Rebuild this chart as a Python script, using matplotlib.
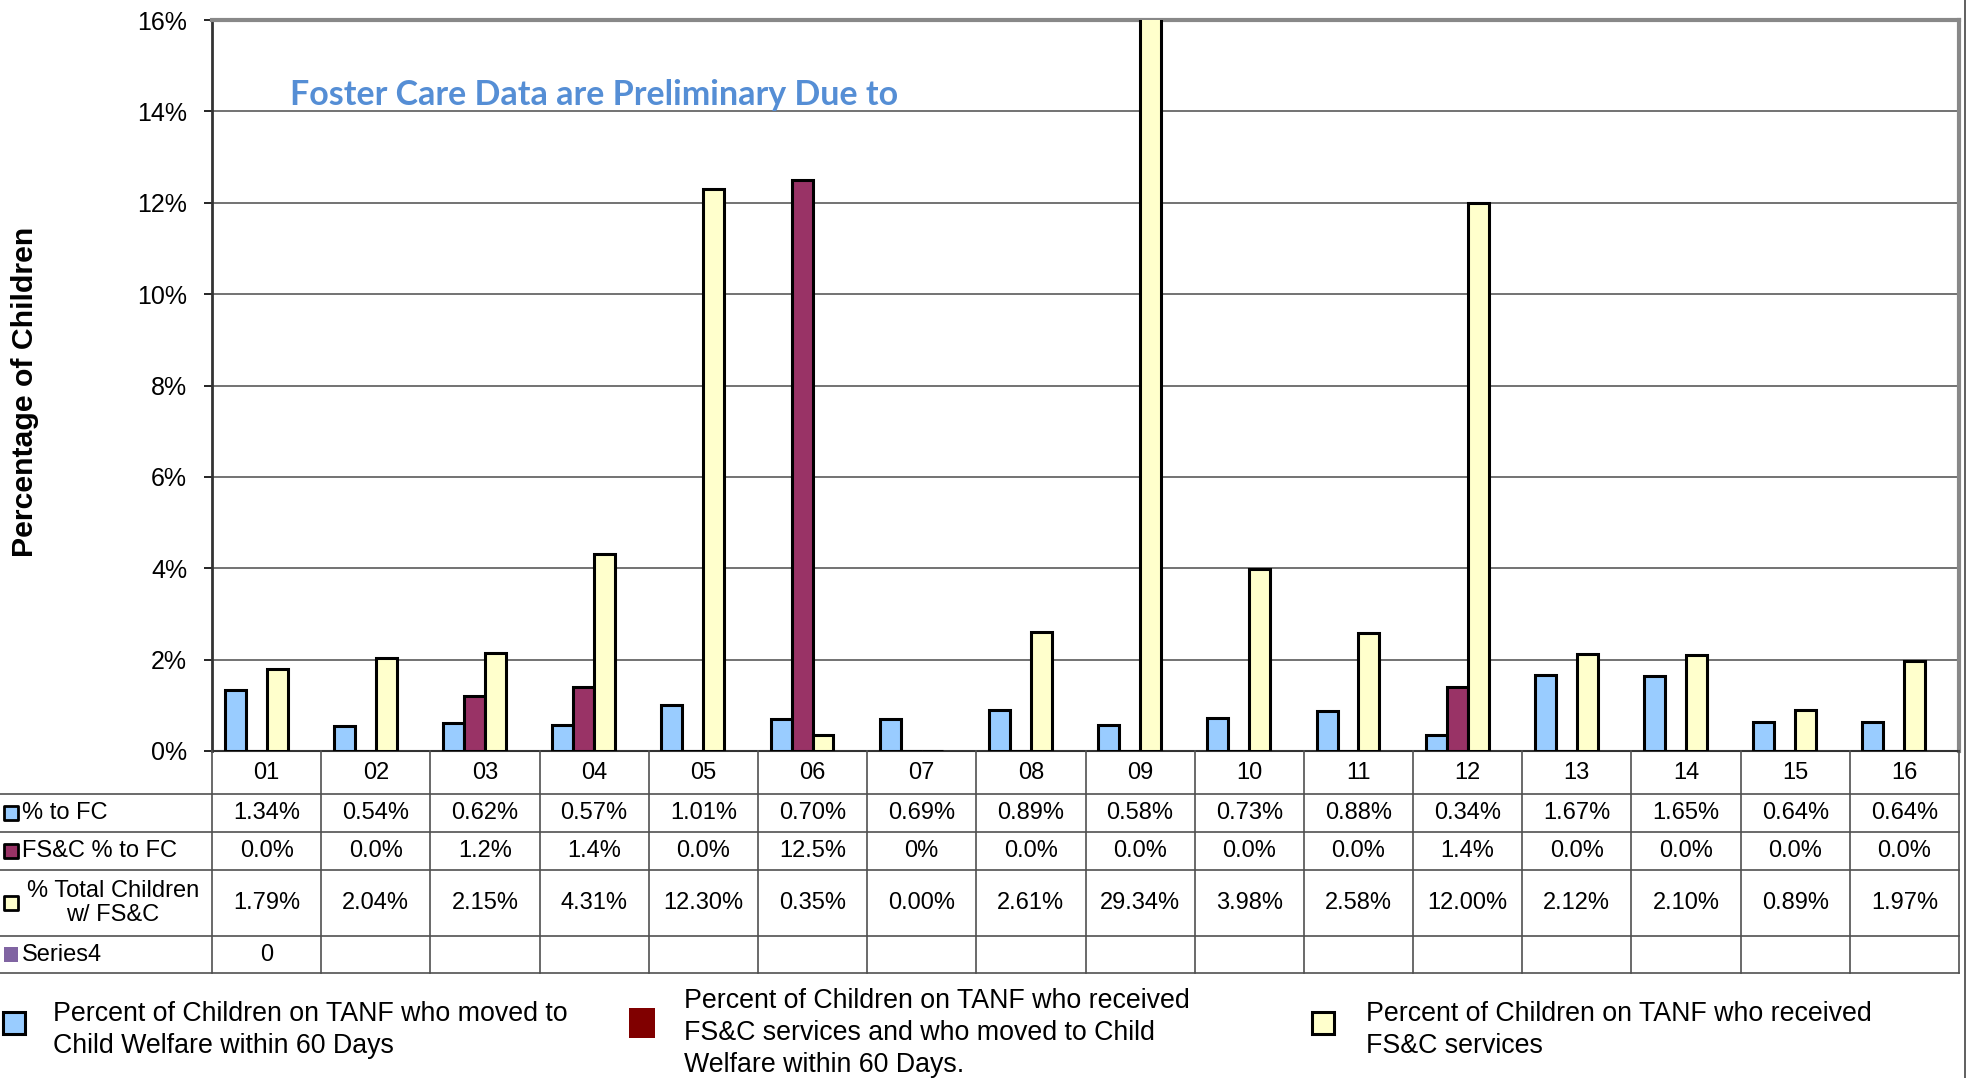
import numpy as np
import matplotlib
matplotlib.use('Agg')
import matplotlib.pyplot as plt
from matplotlib.lines import Line2D
from matplotlib.patches import Rectangle

plt.rcParams['font.family'] = ['Liberation Sans', 'DejaVu Sans']

# data
categories = ['01', '02', '03', '04', '05', '06', '07', '08',
              '09', '10', '11', '12', '13', '14', '15', '16']
pct_to_fc = [1.34, 0.54, 0.62, 0.57, 1.01, 0.70, 0.69, 0.89,
             0.58, 0.73, 0.88, 0.34, 1.67, 1.65, 0.64, 0.64]
fsc_to_fc = [0.0, 0.0, 1.2, 1.4, 0.0, 12.5, 0.0, 0.0,
             0.0, 0.0, 0.0, 1.4, 0.0, 0.0, 0.0, 0.0]
fsc_to_fc_text = ['0.0%', '0.0%', '1.2%', '1.4%', '0.0%', '12.5%', '0%', '0.0%',
                  '0.0%', '0.0%', '0.0%', '1.4%', '0.0%', '0.0%', '0.0%', '0.0%']
total_fsc = [1.79, 2.04, 2.15, 4.31, 12.30, 0.35, 0.00, 2.61,
             29.34, 3.98, 2.58, 12.00, 2.12, 2.10, 0.89, 1.97]
series4 = [0] + [np.nan] * 15
series4_text = ['0'] + [''] * 15

row_labels = ['% to FC', 'FS&C % to FC', '% Total Children\nw/ FS&C', 'Series4']
legend_labels = ['Percent of Children on TANF who moved to\nChild Welfare within 60 Days',
                 'Percent of Children on TANF who received\nFS&C services and who moved to Child\nWelfare within 60 Days.',
                 'Percent of Children on TANF who received\nFS&C services']

c_blue = '#99CCFF'
c_maroon = '#993366'
c_yellow = '#FFFFCC'
c_purple = '#8064A2'

W, H = 1969, 1078
fig = plt.figure(figsize=(W / 100, H / 100), dpi=100)

def fx(px):
    return px / W

def fy(py):
    return 1 - py / H

# plot area
x0, x1, y_top, y_bot = 212, 1959, 20, 751
ax = fig.add_axes([fx(x0), fy(y_bot), fx(x1) - fx(x0), fy(y_top) - fy(y_bot)])

n = len(categories)
x = np.arange(n)
w = 0.192
series = [(pct_to_fc, c_blue), (fsc_to_fc, c_maroon), (total_fsc, c_yellow)]
for k, (vals, col) in enumerate(series):
    ax.bar(x + (k - 1.5) * w, vals, w, color=col, edgecolor='black', linewidth=2.2, zorder=3)
ax.bar(x + 1.5 * w, series4, w, color=c_purple, linewidth=0, zorder=3)

ax.set_xlim(-0.5, n - 0.5)
ax.set_ylim(0, 16)
ax.set_yticks(np.arange(0, 17, 2))
ax.set_yticklabels([f'{v}%' for v in range(0, 17, 2)], fontsize=18)
ax.set_xticks([])
ax.tick_params(axis='y', length=6, width=1.2, pad=12, direction='out')
ax.yaxis.grid(True, color='#5a5a5a', linewidth=1.2, zorder=0)
ax.set_axisbelow(True)
for s in ['top', 'right']:
    ax.spines[s].set_color('#888888')
    ax.spines[s].set_linewidth(3)
ax.spines['left'].set_color('#333333')
ax.spines['left'].set_linewidth(2)
ax.spines['bottom'].set_color('#333333')
ax.spines['bottom'].set_linewidth(1.5)

cat_px = (x1 - x0) / n
ax.text((290 - x0) / cat_px - 0.5, 14.35, 'Foster Care Data are Preliminary Due to', color='#558ED5',
        fontsize=24.5, fontweight='bold', family=['Lato', 'DejaVu Sans'],
        ha='left', va='center', zorder=5)

fig.text(fx(25), fy(392), 'Percentage of Children', rotation=90, fontsize=21.8,
         fontweight='bold', ha='center', va='center')

# data table under the plot
t_bot = 973
tax = fig.add_axes([0, fy(t_bot), fx(x1), fy(y_bot) - fy(t_bot)])
tx_left = -0.5 - x0 / cat_px
tax.set_xlim(tx_left, n - 0.5)
tax.set_ylim(t_bot, y_bot)
tax.axis('off')

rows = [751, 794, 832, 870, 936, 973]
for r in rows[1:]:
    tax.plot([tx_left, n - 0.5], [r, r], color='#505050', lw=1.2, clip_on=False)
for b in np.arange(-0.5, n, 1.0):
    tax.plot([b, b], [rows[0], rows[-1]], color='#505050', lw=1.2, clip_on=False)

def mid(i):
    return (rows[i] + rows[i + 1]) / 2

for i, c in enumerate(categories):
    tax.text(i, mid(0), c, ha='center', va='center', fontsize=17)
    tax.text(i, mid(1), f'{pct_to_fc[i]:.2f}%', ha='center', va='center', fontsize=17)
    tax.text(i, mid(2), fsc_to_fc_text[i], ha='center', va='center', fontsize=17)
    tax.text(i, mid(3), f'{total_fsc[i]:.2f}%', ha='center', va='center', fontsize=17)
    tax.text(i, mid(4), series4_text[i], ha='center', va='center', fontsize=17)

key_cols = [(c_blue, 'black'), (c_maroon, 'black'), (c_yellow, 'black'), (c_purple, 'none')]
key_x = tx_left + 11 / cat_px
for j, lab in enumerate(row_labels):
    fc, ec = key_cols[j]
    tax.scatter([key_x], [mid(j + 1)], marker='s', s=115, c=fc, edgecolors=ec,
                linewidths=2.0, clip_on=False, zorder=4)
    if '\n' in lab:
        tax.text(tx_left + 113 / cat_px, mid(j + 1), lab, ha='center', va='center',
                 fontsize=17, linespacing=1.1)
    else:
        tax.text(tx_left + 22 / cat_px, mid(j + 1), lab, ha='left', va='center', fontsize=17)

# legend along the bottom
leg_items = [
    (3, 1012, 22, 22, c_blue, 'black', 53, 1030),
    (629, 1008, 26, 30, '#800000', 'none', 684, 1033),
    (1312, 1012, 22, 22, c_yellow, 'black', 1366, 1030),
]
for (px, py, pw, ph, fc, ec, txp, typ), lab in zip(leg_items, legend_labels):
    fig.patches.append(Rectangle((fx(px), fy(py + ph)), pw / W, ph / H, facecolor=fc,
                                 edgecolor=ec, linewidth=2.2, transform=fig.transFigure))
    fig.text(fx(txp), fy(typ), lab, ha='left', va='center', fontsize=19.3, linespacing=1.32)

fig.lines.append(Line2D([fx(1965), fx(1965)], [0, 1], color='#444444', lw=1.2,
                        transform=fig.transFigure))

fig.savefig('out.png', dpi=100)
